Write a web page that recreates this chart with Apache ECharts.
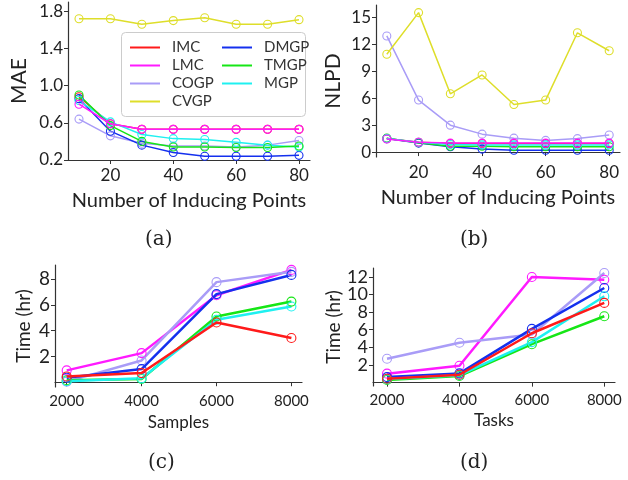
<!DOCTYPE html>
<html>
<head>
<meta charset="utf-8">
<title>GP benchmarks</title>
<script src="https://cdn.jsdelivr.net/npm/echarts@6.0.0/dist/echarts.min.js"></script>
<style>
  html,body{margin:0;padding:0;background:#fff;}
  #chart{width:628px;height:480px;}
</style>
</head>
<body>
<div id="chart"></div>
<script>
// ---------- data ----------
var inducing = [10, 20, 30, 40, 50, 60, 70, 80];
var sizes = [2000, 4000, 6000, 8000];

// (a) MAE vs inducing points
var maeIMC  = [0.88, 0.59, 0.53, 0.53, 0.53, 0.53, 0.53, 0.53];
var maeLMC  = [0.80, 0.59, 0.53, 0.53, 0.53, 0.53, 0.53, 0.53];
var maeCOGP = [0.64, 0.46, 0.38, 0.35, 0.35, 0.34, 0.36, 0.41];
var maeCVGP = [1.72, 1.72, 1.66, 1.70, 1.73, 1.66, 1.66, 1.71];
var maeDMGP = [0.86, 0.51, 0.36, 0.28, 0.24, 0.24, 0.24, 0.25];
var maeTMGP = [0.90, 0.57, 0.40, 0.34, 0.34, 0.335, 0.335, 0.35];
var maeMGP  = [0.84, 0.61, 0.475, 0.43, 0.42, 0.39, 0.36, 0.34];

// (b) NLPD vs inducing points
var nlpdIMC  = [1.5, 1.1, 0.95, 0.95, 0.95, 0.95, 0.95, 0.95];
var nlpdLMC  = [1.45, 1.1, 1.0, 1.0, 1.0, 1.0, 1.0, 1.0];
var nlpdCOGP = [12.95, 5.8, 3.0, 2.0, 1.55, 1.3, 1.5, 1.9];
var nlpdCVGP = [10.9, 15.55, 6.5, 8.6, 5.3, 5.8, 13.3, 11.3];
var nlpdDMGP = [1.5, 1.0, 0.6, 0.33, 0.2, 0.2, 0.2, 0.2];
var nlpdTMGP = [1.55, 1.05, 0.65, 0.65, 0.6, 0.6, 0.6, 0.6];
var nlpdMGP  = [1.5, 1.1, 0.85, 0.8, 0.8, 0.8, 0.8, 0.8];

// (c) time vs samples
var smpIMC  = [0.45, 0.71, 4.64, 3.43];
var smpLMC  = [0.92, 2.26, 6.75, 8.72];
var smpCOGP = [0.05, 1.69, 7.77, 8.57];
var smpDMGP = [0.35, 1.02, 6.84, 8.33];
var smpTMGP = [0.15, 0.25, 5.10, 6.26];
var smpMGP  = [0.08, 0.30, 4.85, 5.88];

// (d) time vs tasks
var tskIMC  = [0.45, 0.90, 5.60, 9.04];
var tskLMC  = [1.02, 1.92, 11.98, 11.67];
var tskCOGP = [2.71, 4.52, 5.46, 12.43];
var tskDMGP = [0.63, 1.05, 6.10, 10.73];
var tskTMGP = [0.30, 0.75, 4.36, 7.53];
var tskMGP  = [0.40, 0.85, 4.60, 9.79];

// tick labels
var ticksInducing = [20, 40, 60, 80];
var ticksMAE = [0.2, 0.6, 1.0, 1.4, 1.8];
var ticksNLPD = [0, 3, 6, 9, 12, 15];
var ticksSamplesY = [2, 4, 6, 8];
var ticksTasksYOdd = [2, 6, 10];   // (d) ticks are packed tight: split over two
var ticksTasksYEven = [4, 8, 12];  // overlaid axes so none get dropped

// ---------- style ----------
var COLORS = { IMC:"#ff1a1a", LMC:"#ff1aff", COGP:"#a99cf7", CVGP:"#dede2a", DMGP:"#1430ee", TMGP:"#16e616", MGP:"#1ff0f0" };
var SANS = 'Lato, "DejaVu Sans", sans-serif';
var SERIF = '"DejaVu Serif", "Liberation Serif", serif';
var INK = "#222";

function plain(v){ return String(v); }

function xAxis(gi, min, max, ticks, name, fs, nfs, gap){
  return {
    type:"value", gridIndex:gi, min:min, max:max, name:name, nameLocation:"middle", nameGap:gap,
    nameTextStyle:{ fontFamily:SANS, fontSize:nfs, color:INK },
    axisLine:{ lineStyle:{ color:"#333", width:1.2 } },
    axisTick:{ length:4, customValues:ticks, lineStyle:{ color:"#333" } },
    axisLabel:{ customValues:ticks, fontFamily:SANS, fontSize:fs, color:INK, margin:7, formatter:plain },
    splitLine:{ show:false }
  };
}
function yAxis(gi, min, max, ticks, name, fs, nfs, gap, fmt){
  return {
    type:"value", gridIndex:gi, position:"left", min:min, max:max,
    name:name, nameLocation:"middle", nameGap:gap,
    nameTextStyle:{ fontFamily:SANS, fontSize:nfs, color:INK },
    axisLine:{ show:true, lineStyle:{ color:"#333", width:1.2 } },
    axisTick:{ show:true, length:4, customValues:ticks, lineStyle:{ color:"#333" } },
    axisLabel:{ customValues:ticks, fontFamily:SANS, fontSize:fs, color:INK, margin:5,
                hideOverlap:false, formatter: fmt || plain },
    splitLine:{ show:false }
  };
}
// hollow markers like matplotlib's markerfacecolor='none'
function series(name, xs, ys, idx, lw, sym, z){
  return {
    type:"line", name:name, xAxisIndex:idx, yAxisIndex:idx, z:z||2,
    data: xs.map(function(x,i){ return [x, ys[i]]; }),
    symbol:"circle", symbolSize:sym, showAllSymbol:true,
    lineStyle:{ width:lw, color:COLORS[name] },
    itemStyle:{ color:"rgba(0,0,0,0)", borderColor:COLORS[name], borderWidth:1.1 },
    emphasis:{ disabled:true }, animation:false
  };
}

var all = [];
// (a)
all.push(series("IMC", inducing, maeIMC, 0, 1.5, 8));
all.push(series("LMC", inducing, maeLMC, 0, 1.5, 8, 4));
all.push(series("COGP", inducing, maeCOGP, 0, 1.5, 8));
all.push(series("CVGP", inducing, maeCVGP, 0, 1.5, 8));
all.push(series("DMGP", inducing, maeDMGP, 0, 1.5, 8));
all.push(series("MGP", inducing, maeMGP, 0, 1.5, 8));
all.push(series("TMGP", inducing, maeTMGP, 0, 1.5, 8));
// (b)
all.push(series("IMC", inducing, nlpdIMC, 1, 1.5, 8));
all.push(series("LMC", inducing, nlpdLMC, 1, 1.5, 8, 4));
all.push(series("COGP", inducing, nlpdCOGP, 1, 1.5, 8));
all.push(series("CVGP", inducing, nlpdCVGP, 1, 1.5, 8));
all.push(series("DMGP", inducing, nlpdDMGP, 1, 1.5, 8));
all.push(series("TMGP", inducing, nlpdTMGP, 1, 1.5, 8));
all.push(series("MGP", inducing, nlpdMGP, 1, 1.5, 8));
// (c)
all.push(series("IMC", sizes, smpIMC, 2, 2.5, 9, 3));
all.push(series("LMC", sizes, smpLMC, 2, 2.5, 9));
all.push(series("COGP", sizes, smpCOGP, 2, 2.5, 9));
all.push(series("DMGP", sizes, smpDMGP, 2, 2.5, 9));
all.push(series("TMGP", sizes, smpTMGP, 2, 2.5, 9));
all.push(series("MGP", sizes, smpMGP, 2, 2.5, 9));
// (d)
all.push(series("IMC", sizes, tskIMC, 3, 2.5, 9, 3));
all.push(series("LMC", sizes, tskLMC, 3, 2.5, 9));
all.push(series("COGP", sizes, tskCOGP, 3, 2.5, 9));
all.push(series("DMGP", sizes, tskDMGP, 3, 2.5, 9));
all.push(series("TMGP", sizes, tskTMGP, 3, 2.5, 9));
all.push(series("MGP", sizes, tskMGP, 3, 2.5, 9));

function legend(left, names){
  return {
    left:left, top:35, orient:"vertical", itemGap:3, itemWidth:30, itemHeight:2, icon:"rect",
    data:names.map(function(n){ return { name:n, itemStyle:{ color:COLORS[n], borderWidth:0 } }; }),
    z:20, selectedMode:false,
    textStyle:{ fontFamily:SANS, fontSize:15, color:"#333", padding:[0,0,0,7] }
  };
}
function caption(x, y, txt){
  return { type:"text", left:x, top:y, z:20,
           style:{ text:txt, fontFamily:SERIF, fontSize:20, fill:INK } };
}

// second label layer for (d): same scale, no line, no name
var tasksEven = yAxis(3, -0.38, 13.0, ticksTasksYEven, "", 18, 19, 30);
tasksEven.axisLine.show = false;

var chart = echarts.init(document.getElementById("chart"), null, { renderer:"canvas" });
chart.setOption({
  backgroundColor:"#fff",
  animation:false,
  grid:[
    { left:68,  top:2,   width:242, height:158 },
    { left:376, top:5,   width:244, height:152 },
    { left:55,  top:265, width:247, height:122 },
    { left:373, top:268, width:242, height:118 }
  ],
  xAxis:[
    xAxis(0, 6.5, 83.5, ticksInducing, "Number of Inducing Points", 17, 20, 31),
    xAxis(1, 6.6, 83.4, ticksInducing, "Number of Inducing Points", 17, 20, 31),
    xAxis(2, 1688, 8283, sizes, "Samples", 15, 17, 27),
    xAxis(3, 1613, 8296, sizes, "Tasks", 15, 17, 26)
  ],
  yAxis:[
    yAxis(0, 0.2, 1.9, ticksMAE, "MAE", 17, 21, 38, function(v){ return v.toFixed(1); }),
    yAxis(1, -0.55, 16.4, ticksNLPD, "NLPD", 17, 21, 32),
    yAxis(2, -0.37, 9.1, ticksSamplesY, "Time (hr)", 19, 19, 22),
    yAxis(3, -0.38, 13.0, ticksTasksYOdd, "Time (hr)", 18, 19, 30),
    tasksEven
  ],
  legend:[
    legend(125, ["IMC", "LMC", "COGP", "CVGP"]),
    legend(217, ["DMGP", "TMGP", "MGP"])
  ],
  graphic:[
    { type:"rect", left:121, top:32, z:15,
      shape:{ width:184, height:84, r:4 },
      style:{ fill:"rgba(255,255,255,0.85)", stroke:"#ccc", lineWidth:1 } },
    caption(145, 230, "(a)"),
    caption(460, 230, "(b)"),
    caption(148, 453, "(c)"),
    caption(460, 453, "(d)")
  ],
  series: all
});
</script>
</body>
</html>
